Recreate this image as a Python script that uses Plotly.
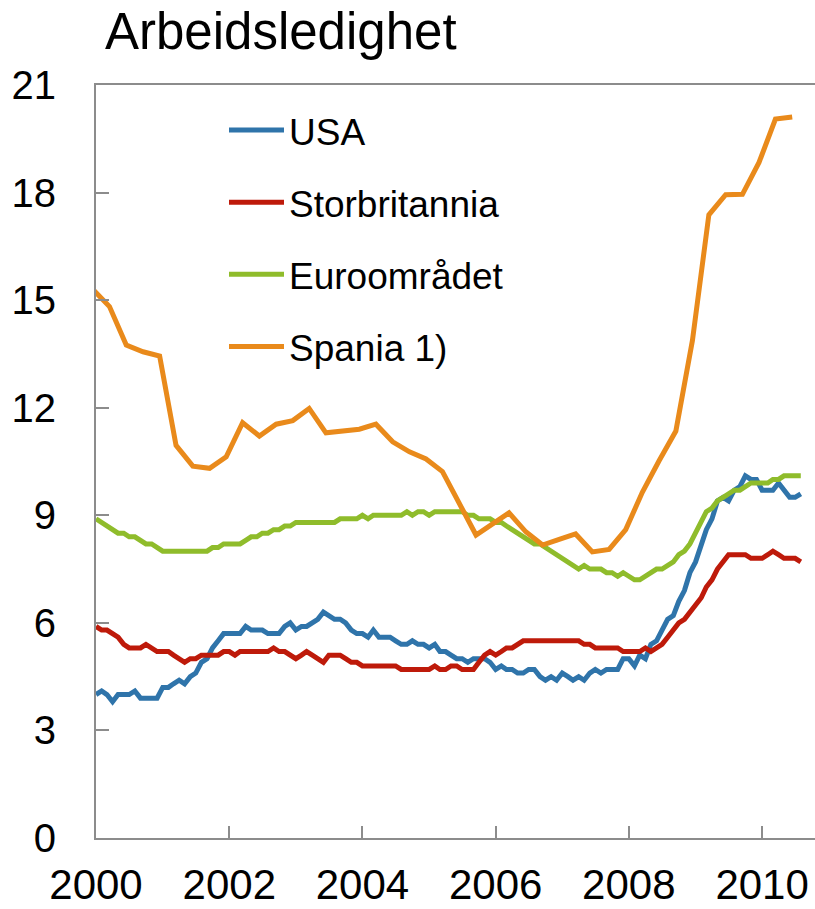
import pandas as pd
import plotly.graph_objects as go

title = "Arbeidsledighet"
series_names = ["USA", "Storbritannia", "Euroområdet", "Spania 1)"]
colors = ["#2F74AA", "#BE1A0A", "#8FBC2B", "#E98A1B"]

usa = [
    4.0, 4.1, 4.0, 3.8, 4.0, 4.0, 4.0, 4.1, 3.9, 3.9, 3.9, 3.9,
    4.2, 4.2, 4.3, 4.4, 4.3, 4.5, 4.6, 4.9, 5.0, 5.3, 5.5, 5.7,
    5.7, 5.7, 5.7, 5.9, 5.8, 5.8, 5.8, 5.7, 5.7, 5.7, 5.9, 6.0,
    5.8, 5.9, 5.9, 6.0, 6.1, 6.3, 6.2, 6.1, 6.1, 6.0, 5.8, 5.7,
    5.7, 5.6, 5.8, 5.6, 5.6, 5.6, 5.5, 5.4, 5.4, 5.5, 5.4, 5.4,
    5.3, 5.4, 5.2, 5.2, 5.1, 5.0, 5.0, 4.9, 5.0, 5.0, 5.0, 4.9,
    4.7, 4.8, 4.7, 4.7, 4.6, 4.6, 4.7, 4.7, 4.5, 4.4, 4.5, 4.4,
    4.6, 4.5, 4.4, 4.5, 4.4, 4.6, 4.7, 4.6, 4.7, 4.7, 4.7, 5.0,
    5.0, 4.8, 5.1, 5.0, 5.4, 5.5, 5.8, 6.1, 6.2, 6.6, 6.9, 7.4,
    7.7, 8.2, 8.6, 8.9, 9.4, 9.5, 9.4, 9.7, 9.8, 10.1, 10.0, 10.0,
    9.7, 9.7, 9.7, 9.9, 9.7, 9.5, 9.5, 9.6,
]
uk = [
    5.9, 5.8, 5.8, 5.7, 5.6, 5.4, 5.3, 5.3, 5.3, 5.4, 5.3, 5.2,
    5.2, 5.2, 5.1, 5.0, 4.9, 5.0, 5.0, 5.1, 5.1, 5.1, 5.1, 5.2,
    5.2, 5.1, 5.2, 5.2, 5.2, 5.2, 5.2, 5.2, 5.3, 5.2, 5.2, 5.1,
    5.0, 5.1, 5.2, 5.1, 5.0, 4.9, 5.1, 5.1, 5.1, 5.0, 4.9, 4.9,
    4.8, 4.8, 4.8, 4.8, 4.8, 4.8, 4.8, 4.7, 4.7, 4.7, 4.7, 4.7,
    4.7, 4.8, 4.7, 4.7, 4.8, 4.8, 4.7, 4.7, 4.7, 4.9, 5.1, 5.2,
    5.1, 5.2, 5.3, 5.3, 5.4, 5.5, 5.5, 5.5, 5.5, 5.5, 5.5, 5.5,
    5.5, 5.5, 5.5, 5.5, 5.4, 5.4, 5.3, 5.3, 5.3, 5.3, 5.3, 5.2,
    5.2, 5.2, 5.2, 5.3, 5.2, 5.3, 5.4, 5.6, 5.8, 6.0, 6.1, 6.3,
    6.5, 6.7, 7.0, 7.2, 7.5, 7.7, 7.9, 7.9, 7.9, 7.9, 7.8, 7.8,
    7.8, 7.9, 8.0, 7.9, 7.8, 7.8, 7.8, 7.7,
]
euro = [
    8.9, 8.8, 8.7, 8.6, 8.5, 8.5, 8.4, 8.4, 8.3, 8.2, 8.2, 8.1,
    8.0, 8.0, 8.0, 8.0, 8.0, 8.0, 8.0, 8.0, 8.0, 8.1, 8.1, 8.2,
    8.2, 8.2, 8.2, 8.3, 8.4, 8.4, 8.5, 8.5, 8.6, 8.6, 8.7, 8.7,
    8.8, 8.8, 8.8, 8.8, 8.8, 8.8, 8.8, 8.8, 8.9, 8.9, 8.9, 8.9,
    9.0, 8.9, 9.0, 9.0, 9.0, 9.0, 9.0, 9.0, 9.1, 9.0, 9.1, 9.1,
    9.0, 9.1, 9.1, 9.1, 9.1, 9.1, 9.1, 9.0, 9.0, 8.9, 8.9, 8.9,
    8.8, 8.8, 8.7, 8.6, 8.5, 8.4, 8.3, 8.2, 8.2, 8.1, 8.0, 7.9,
    7.8, 7.7, 7.6, 7.5, 7.6, 7.5, 7.5, 7.5, 7.4, 7.4, 7.3, 7.4,
    7.3, 7.2, 7.2, 7.3, 7.4, 7.5, 7.5, 7.6, 7.7, 7.9, 8.0, 8.2,
    8.5, 8.8, 9.1, 9.2, 9.4, 9.5, 9.6, 9.7, 9.7, 9.8, 9.9, 9.9,
    9.9, 9.9, 10.0, 10.0, 10.1, 10.1, 10.1, 10.1,
]
spain = [
    15.3,
    14.82, 13.75, 13.56, 13.44,
    10.95, 10.37, 10.31, 10.63,
    11.58, 11.21, 11.54, 11.64,
    11.98, 11.30, 11.35, 11.40,
    11.54, 11.05, 10.77, 10.57,
    10.22, 9.33, 8.45, 8.76,
    9.07, 8.54, 8.17, 8.33,
    8.48, 7.98, 8.05, 8.60,
    9.64, 10.52, 11.35, 13.88,
    17.38, 17.94, 17.95, 18.84,
    20.05, 20.11,
]

y_ticks = [0, 3, 6, 9, 12, 15, 18, 21]
x_tick_labels = ["2000", "2002", "2004", "2006", "2008", "2010"]

monthly_dates = pd.date_range("2000-01-01", periods=len(usa), freq="MS")
quarterly_dates = pd.date_range("1999-12-01", periods=len(spain), freq="3MS") + pd.Timedelta(days=14)

FONT = "Liberation Sans, Arial, sans-serif"
AXIS_COLOR = "#8C8C8C"

fig = go.Figure()
data = [(monthly_dates, usa), (monthly_dates, uk), (monthly_dates, euro), (quarterly_dates, spain)]
for (xs, ys), name, col in zip(data, series_names, colors):
    fig.add_trace(go.Scatter(
        x=xs, y=ys, name=name, mode="lines",
        line=dict(color=col, width=5),
        legendgroup=name,
    ))

tick_dates = [pd.Timestamp(int(t), 1, 1) for t in x_tick_labels]

fig.update_layout(
    width=815, height=909,
    margin=dict(l=96, r=0, t=85, b=71),
    paper_bgcolor="white", plot_bgcolor="white",
    font=dict(family=FONT, color="black"),
    title=dict(text=title, font=dict(size=51, family=FONT, color="black"),
               x=105 / 815, xanchor="left", xref="container",
               y=1 - 31 / 909, yanchor="middle", yref="container"),
    showlegend=True,
    hovermode=False,
    legend=dict(x=(224 - 96) / 719, y=0.9807, xanchor="left", yanchor="top",
                font=dict(size=37, family=FONT), bgcolor="rgba(0,0,0,0)",
                tracegroupgap=21, itemwidth=55),
    xaxis=dict(
        range=[pd.Timestamp("2000-01-01"), pd.Timestamp("2010-10-18")],
        tickvals=tick_dates, ticktext=x_tick_labels,
        ticks="inside", ticklen=12, tickwidth=2, tickcolor=AXIS_COLOR,
        showline=True, linecolor=AXIS_COLOR, linewidth=2, mirror=True,
        showgrid=False, zeroline=False, automargin=False,
        tickfont=dict(size=42, family=FONT, color="black"),
        ticklabelstandoff=9,
    ),
    yaxis=dict(
        range=[0, 21], tickvals=y_ticks,
        ticks="inside", ticklen=13, tickwidth=2, tickcolor=AXIS_COLOR,
        showline=True, linecolor=AXIS_COLOR, linewidth=2,
        showgrid=False, zeroline=False, automargin=False,
        tickfont=dict(size=40, family=FONT, color="black"),
        ticklabelstandoff=30,
    ),
    yaxis2=dict(
        range=[0, 21], tickvals=y_ticks, overlaying="y", side="right", anchor="x",
        ticks="inside", ticklen=10, tickwidth=2, tickcolor=AXIS_COLOR,
        showticklabels=False, showline=False, showgrid=False, zeroline=False,
        automargin=False,
    ),
)

fig.write_html("out.html", config={"displayModeBar": False},
               post_script="document.body.style.margin='0px';")
